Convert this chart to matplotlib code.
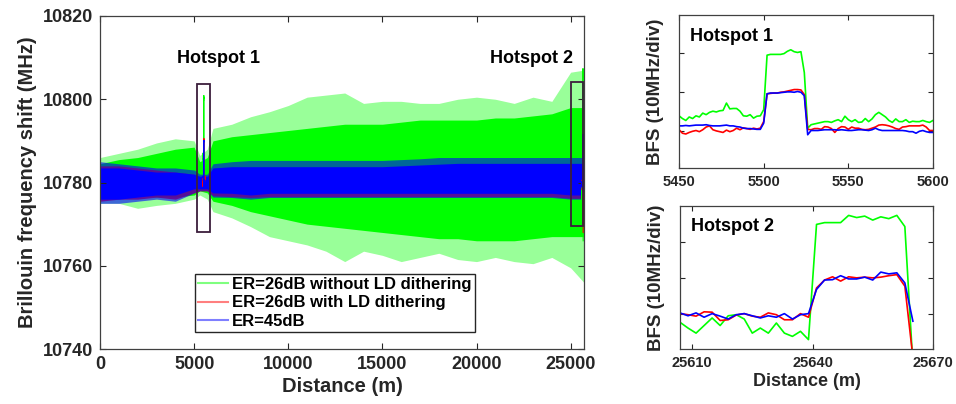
import matplotlib
matplotlib.use("Agg")
import matplotlib.pyplot as plt
import numpy as np
from matplotlib.lines import Line2D
from matplotlib.patches import Rectangle

plt.rcParams["font.family"] = ["Liberation Sans", "DejaVu Sans"]
plt.rcParams["font.weight"] = "bold"
plt.rcParams["axes.labelweight"] = "bold"

GREEN, RED, BLUE = "#00ff00", "#ff0000", "#0000ff"
INK = "#262626"
FRAME = "#3c1e3c"

labels = [
    "ER=26dB without LD dithering",
    "ER=26dB with LD dithering",
    "ER=45dB",
]

# envelope of the noisy full-length traces (MHz)
knots = [0, 1000, 2000, 3000, 4000, 5000, 5300, 5700, 6000, 7000, 8000, 9000,
         10000, 11000, 12000, 13000, 14000, 15000, 16000, 17000, 18000, 19000,
         20000, 21000, 22000, 23000, 24000, 25000, 25700]

green_core_hi = [10784.5, 10785.5, 10786.0, 10787.0, 10788.0, 10788.5, 10785.0, 10786.0,
                 10790.0, 10791.0, 10791.5, 10792.0, 10792.5, 10793.0, 10793.5, 10794.0,
                 10794.0, 10794.0, 10794.5, 10795.0, 10795.0, 10795.0, 10795.0, 10795.5,
                 10795.5, 10796.0, 10796.5, 10798.0, 10798.0]
green_core_lo = [10777.0, 10777.0, 10777.0, 10776.5, 10776.5, 10777.0, 10778.0, 10777.5,
                 10775.5, 10774.5, 10773.0, 10772.0, 10771.0, 10770.0, 10769.5, 10769.0,
                 10768.5, 10768.0, 10767.5, 10767.0, 10766.5, 10766.5, 10766.0, 10766.0,
                 10766.0, 10766.5, 10767.0, 10767.0, 10767.0]
green_peak_hi = [10786.0, 10787.0, 10788.0, 10789.5, 10790.5, 10790.0, 10786.5, 10788.0,
                 10793.0, 10794.0, 10795.8, 10797.0, 10798.5, 10800.5, 10801.0, 10801.5,
                 10799.0, 10799.5, 10799.5, 10799.0, 10799.0, 10800.0, 10800.5, 10800.0,
                 10799.0, 10800.5, 10799.5, 10806.5, 10807.0]
green_peak_lo = [10775.0, 10775.0, 10773.8, 10774.5, 10775.0, 10776.0, 10777.0, 10776.0,
                 10773.0, 10771.5, 10769.4, 10767.0, 10766.0, 10765.0, 10763.5, 10761.0,
                 10763.5, 10762.5, 10761.0, 10762.0, 10763.0, 10761.5, 10761.0, 10762.0,
                 10761.0, 10760.5, 10762.0, 10759.5, 10756.0]

# red mostly hides under blue; only its lower fringe shows
red_core_hi = [10784.0, 10784.0, 10783.5, 10783.0, 10782.5, 10782.0, 10781.0, 10781.0,
               10783.0, 10783.5, 10783.5, 10783.5, 10783.5, 10783.5, 10783.5, 10783.5,
               10783.5, 10783.5, 10783.5, 10783.5, 10783.5, 10783.5, 10783.5, 10783.5,
               10783.5, 10783.5, 10783.5, 10783.5, 10783.5]
red_core_lo = [10775.5, 10776.0, 10776.0, 10776.5, 10776.0, 10777.5, 10778.0, 10778.0,
               10776.8, 10776.6, 10776.4, 10776.6, 10776.6, 10776.6, 10776.6, 10776.6,
               10776.6, 10776.6, 10776.6, 10776.6, 10776.6, 10776.6, 10776.6, 10776.6,
               10776.6, 10776.6, 10776.6, 10776.2, 10776.2]

blue_core_hi = [10783.5, 10783.5, 10783.0, 10782.5, 10782.5, 10782.0, 10781.5, 10781.5,
                10783.5, 10783.8, 10783.8, 10783.8, 10783.8, 10783.8, 10783.8, 10783.8,
                10783.8, 10783.8, 10784.0, 10784.2, 10784.4, 10784.6, 10784.6, 10784.6,
                10784.6, 10784.6, 10784.6, 10784.6, 10784.6]
blue_core_lo = [10776.0, 10776.0, 10776.5, 10777.0, 10777.0, 10778.5, 10778.5, 10778.5,
                10777.5, 10777.4, 10777.0, 10777.4, 10777.4, 10777.4, 10777.4, 10777.4,
                10777.4, 10777.4, 10777.4, 10777.4, 10777.4, 10777.4, 10777.4, 10777.4,
                10777.4, 10777.4, 10777.4, 10777.0, 10777.0]
blue_peak_hi = [10785.0, 10784.5, 10784.0, 10783.5, 10783.5, 10783.0, 10782.0, 10782.0,
                10784.5, 10785.0, 10785.3, 10785.3, 10785.3, 10785.3, 10785.3, 10785.3,
                10785.3, 10785.3, 10785.5, 10785.7, 10786.0, 10786.0, 10786.0, 10786.0,
                10786.0, 10786.0, 10786.0, 10786.0, 10786.0]
blue_peak_lo = [10775.0, 10775.0, 10775.5, 10776.0, 10775.5, 10777.5, 10778.0, 10778.0,
                10776.5, 10776.4, 10776.0, 10776.4, 10776.4, 10776.4, 10776.4, 10776.4,
                10776.4, 10776.4, 10776.4, 10776.4, 10776.4, 10776.4, 10776.4, 10776.4,
                10776.4, 10776.4, 10776.4, 10776.0, 10776.0]

# hotspot 1 detail, 2 m sampling from 5450 m to 5600 m
dist_h1 = np.arange(5450, 5602, 2)
green_h1 = [10783.8, 10783.1, 10782.6, 10783.5, 10783.1, 10783.8, 10783.5, 10784.5, 10784.1, 10784.7,
            10785.0, 10784.8, 10785.1, 10785.2, 10787.1, 10785.6, 10785.7, 10785.7, 10785.0, 10783.8,
            10783.7, 10784.1, 10783.2, 10783.7, 10783.8, 10785.4, 10799.5, 10799.7, 10799.7, 10799.7,
            10799.7, 10799.9, 10800.5, 10800.9, 10800.4, 10800.2, 10800.4, 10795.0, 10780.6, 10781.5,
            10781.7, 10781.9, 10782.1, 10782.3, 10782.3, 10782.1, 10782.5, 10782.8, 10782.3, 10783.7,
            10782.8, 10782.3, 10782.8, 10782.1, 10782.2, 10783.1, 10782.3, 10783.0, 10784.1, 10784.7,
            10784.1, 10783.5, 10782.6, 10782.1, 10783.0, 10782.3, 10782.3, 10782.8, 10782.1, 10782.4,
            10782.3, 10782.3, 10782.6, 10782.3, 10782.1, 10782.6]
red_h1 = [10780.2, 10779.3, 10779.1, 10779.5, 10779.8, 10780.0, 10779.7, 10780.2, 10780.9, 10781.2,
          10780.2, 10779.9, 10779.7, 10779.5, 10780.1, 10779.7, 10780.0, 10780.6, 10780.2, 10780.7,
          10780.5, 10780.3, 10780.6, 10780.4, 10780.6, 10782.3, 10789.5, 10789.6, 10789.7, 10789.7,
          10789.9, 10790.0, 10790.2, 10790.4, 10790.6, 10790.6, 10790.5, 10789.3, 10780.3, 10780.2,
          10780.5, 10780.5, 10780.3, 10781.0, 10780.9, 10780.5, 10779.5, 10780.5, 10781.0, 10780.9,
          10780.3, 10780.9, 10780.6, 10780.6, 10780.3, 10780.2, 10780.3, 10780.6, 10780.9, 10781.4,
          10781.5, 10781.4, 10781.2, 10780.9, 10780.5, 10780.3, 10780.9, 10781.0, 10781.2, 10781.2,
          10781.2, 10781.2, 10781.4, 10780.9, 10780.0, 10780.0]
blue_h1 = [10781.2, 10781.2, 10781.3, 10781.2, 10781.3, 10781.4, 10781.4, 10781.4, 10781.5, 10781.3,
           10781.2, 10781.2, 10781.2, 10781.3, 10781.4, 10781.2, 10781.2, 10781.0, 10780.9, 10780.6,
           10780.5, 10780.5, 10780.4, 10780.3, 10780.3, 10781.9, 10789.5, 10789.7, 10789.7, 10789.7,
           10789.8, 10789.9, 10790.0, 10790.0, 10789.9, 10790.1, 10789.9, 10789.0, 10778.9, 10780.0,
           10780.0, 10780.0, 10780.1, 10780.2, 10780.2, 10780.2, 10780.2, 10780.1, 10780.2, 10780.1,
           10780.0, 10780.0, 10780.1, 10780.2, 10780.2, 10780.1, 10780.0, 10780.2, 10780.6, 10780.2,
           10780.0, 10780.0, 10780.0, 10780.0, 10780.0, 10780.0, 10780.0, 10779.9, 10779.7, 10779.7,
           10779.3, 10779.8, 10780.0, 10779.7, 10779.5, 10779.5]

# hotspot 2 detail, 2 m sampling from 25607 m to 25665 m
dist_h2 = np.arange(25607, 25667, 2)
green_h2 = [10777.7, 10776.1, 10774.7, 10776.8, 10778.9, 10776.8, 10779.5, 10779.8, 10778.6, 10774.7,
            10776.1, 10774.7, 10777.5, 10774.7, 10773.8, 10775.2, 10772.9, 10804.8, 10805.3, 10805.3,
            10805.3, 10807.3, 10806.7, 10807.1, 10806.0, 10806.9, 10806.4, 10807.3, 10804.2, 10766.0]
red_h2 = [10780.1, 10779.8, 10779.4, 10780.6, 10780.5, 10778.2, 10778.4, 10779.7, 10780.1, 10779.4,
          10779.1, 10780.3, 10779.8, 10778.4, 10778.4, 10780.1, 10779.1, 10787.2, 10789.4, 10790.3,
          10789.1, 10790.3, 10790.0, 10790.2, 10790.0, 10790.2, 10790.6, 10790.9, 10787.7, 10768.0]
blue_h2 = [10780.3, 10779.5, 10780.3, 10779.1, 10780.1, 10779.4, 10778.6, 10779.8, 10780.1, 10779.5,
           10778.9, 10779.5, 10779.1, 10780.1, 10778.6, 10779.8, 10780.1, 10786.8, 10789.4, 10789.5,
           10790.6, 10789.7, 10789.7, 10790.2, 10789.4, 10791.6, 10791.1, 10791.4, 10788.6, 10778.0]


def style_axis(ax, labelsize):
    ax.tick_params(direction="in", top=True, right=True, length=4.5, width=0.8,
                   colors=INK, labelsize=labelsize, pad=5)
    for spine in ax.spines.values():
        spine.set_color("#404040")
        spine.set_linewidth(0.9)


fig = plt.figure(figsize=(9.56, 4.04), dpi=100)
ax = fig.add_axes([0.1046, 0.1361, 0.5063, 0.8243])
ax_h1 = fig.add_axes([0.7103, 0.5842, 0.2656, 0.3787])
ax_h2 = fig.add_axes([0.7113, 0.1361, 0.2646, 0.3540])

# main trace: light haze for the green spikes, solid cores for the dense part
ax.fill_between(knots, green_peak_lo, green_peak_hi, color=GREEN, alpha=0.4, lw=0)
ax.fill_between(knots, green_core_lo, green_core_hi, color=GREEN, lw=0)
ax.fill_between(knots, red_core_lo, red_core_hi, color=RED, alpha=0.85, lw=0)
ax.fill_between(knots, blue_peak_lo, blue_peak_hi, color=BLUE, alpha=0.6, lw=0)
ax.fill_between(knots, blue_core_lo, blue_core_hi, color=BLUE, lw=0)

for dist, series in ((dist_h1, (green_h1, red_h1, blue_h1)), (dist_h2, (green_h2, red_h2, blue_h2))):
    for color, values in zip((GREEN, RED, BLUE), series):
        ax.plot(dist, values, color=color, lw=0.8)

for x0, y0, x1, y1 in ((5150, 10768.0, 5850, 10803.7), (25010, 10769.6, 25668, 10804.1)):
    ax.add_patch(Rectangle((x0, y0), x1 - x0, y1 - y0, fill=False, edgecolor=FRAME, lw=1.3, zorder=5))

ax.text(6270, 10809.8, "Hotspot 1", ha="center", va="center", fontsize=13, color="black")
ax.text(22940, 10809.8, "Hotspot 2", ha="center", va="center", fontsize=13, color="black")

ax.set_xlim(0, 25710)
ax.set_ylim(10740, 10820)
ax.set_xticks([0, 5000, 10000, 15000, 20000, 25000])
ax.set_yticks([10740, 10760, 10780, 10800, 10820])
ax.set_xlabel("Distance (m)", fontsize=14.5, color=INK, labelpad=3)
ax.set_ylabel("Brillouin frequency shift (MHz)", fontsize=14.5, color=INK, labelpad=4)
style_axis(ax, 13)

handles = [Line2D([], [], color=c, lw=1.5, alpha=0.5) for c in (GREEN, RED, BLUE)]
leg = ax.legend(handles, labels, loc="lower left", bbox_to_anchor=(0.196, 0.051),
                borderaxespad=0, fontsize=12, handlelength=1.8, handletextpad=0.25,
                labelspacing=0.2, borderpad=0.2, fancybox=False, framealpha=1,
                edgecolor=INK)
leg.get_frame().set_linewidth(1.0)

# zoomed hotspot panels
for axis, dist, series, name in (
    (ax_h1, dist_h1, (green_h1, red_h1, blue_h1), "Hotspot 1"),
    (ax_h2, dist_h2, (green_h2, red_h2, blue_h2), "Hotspot 2"),
):
    for color, values in zip((GREEN, RED, BLUE), series):
        axis.plot(dist, values, color=color, lw=1.2)
    axis.set_ylim(10770.3, 10809.9)
    axis.set_yticks([10780, 10790, 10800])
    axis.set_yticklabels([])
    axis.set_ylabel("BFS (10MHz/div)", fontsize=13.5, color=INK, labelpad=6)
    axis.text(0.043, 0.86, name, transform=axis.transAxes, ha="left", va="center",
              fontsize=13, color="black")
    style_axis(axis, 10.5)
    axis.tick_params(length=3.5)

ax_h1.set_xlim(5450, 5600)
ax_h1.set_xticks([5450, 5500, 5550, 5600])
ax_h2.set_xlim(25607, 25670)
ax_h2.set_xticks([25610, 25640, 25670])
ax_h2.set_xlabel("Distance (m)", fontsize=13, color=INK, labelpad=2)

fig.savefig("out.png", dpi=100)
